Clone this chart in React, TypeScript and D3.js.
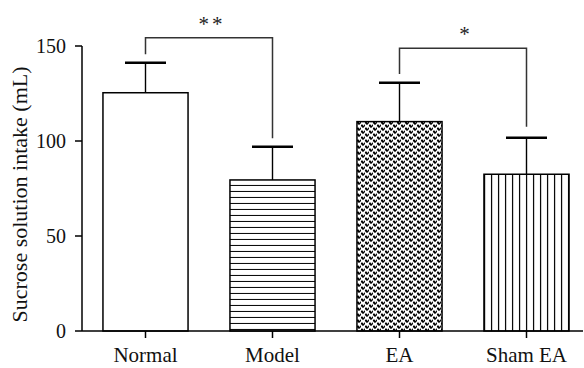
import React from 'react';
import * as d3 from 'd3';

// Chart data
const GROUPS = ['Normal', 'Model', 'EA', 'Sham EA'];
const MEANS = [125.4, 79.5, 110.2, 82.5];
const ERR_TOP = [141.2, 97, 130.7, 101.7];
const FILLS = ['#ffffff', 'url(#hlines)', 'url(#dots)', 'url(#vlines)'];
const Y_TICKS = [0, 50, 100, 150];

// Significance brackets: [from group, to group], bracket level, left end, right end, label
const SIG_PAIRS: [number, number][] = [[0, 1], [2, 3]];
const SIG_LEVEL = [154.4, 148.8];
const SIG_LEFT_END = [145.6, 135.3];
const SIG_RIGHT_END = [101.4, 107.5];
const SIG_LABELS = ['**', '*'];

// heart-ish dot used in the EA fill (pixel rows)
const DOT_SHAPE = ['XX.X', 'XXXX', '.XX.'];

const W = 584;
const H = 368;
const FONT = '"Liberation Serif", "Times New Roman", serif';

const dotRects = (ox: number, oy: number) => {
  const out: { x: number; y: number }[] = [];
  DOT_SHAPE.forEach((row, r) => {
    row.split('').forEach((c, k) => {
      if (c === 'X') out.push({ x: ox + k, y: oy + r });
    });
  });
  return out;
};

const App: React.FC = () => {
  const x = d3.scaleBand<string>()
    .domain(GROUPS)
    .range([82, 590])
    .paddingInner(0.33)
    .paddingOuter(0.165);

  const y = d3.scaleLinear()
    .domain([0, 150])
    .range([331, 46]);

  const cx = (i: number) => (x(GROUPS[i]) as number) + x.bandwidth() / 2;
  const capHalf = 20.5;
  const dots = [...dotRects(0, 0), ...dotRects(4, 3)];

  return (
    <div style={{ position: 'absolute', left: 0, top: 0 }}>
      <svg width={W} height={H} style={{ display: 'block', background: '#fff' }}>
        <defs>
          <pattern id="hlines" width="6" height="6" patternUnits="userSpaceOnUse" y={y(MEANS[1])}>
            <rect width="6" height="6" fill="#fff" />
            <rect x="0" y="5" width="6" height="1.1" fill="#000" />
          </pattern>
          <pattern id="vlines" width="7" height="7" patternUnits="userSpaceOnUse" x={x('Sham EA')}>
            <rect width="7" height="7" fill="#fff" />
            <rect x="0" y="0" width="1.2" height="7" fill="#000" />
          </pattern>
          <pattern id="dots" width="8" height="6" patternUnits="userSpaceOnUse" x={x('EA')} y={y(MEANS[2])}>
            <rect width="8" height="6" fill="#fff" />
            <g fill="#000" shapeRendering="crispEdges">
              {dots.map((d, i) => (
                <rect key={i} x={d.x % 8} y={d.y % 6} width="1" height="1" />
              ))}
            </g>
          </pattern>
        </defs>

        {/* bars */}
        {GROUPS.map((g, i) => (
          <rect
            key={g}
            x={x(g)}
            y={y(MEANS[i])}
            width={x.bandwidth()}
            height={y(0) - y(MEANS[i])}
            fill={FILLS[i]}
            stroke="#000"
            strokeWidth={1.5}
          />
        ))}

        {/* error bars */}
        {GROUPS.map((g, i) => (
          <g key={g + '-err'} stroke="#000">
            <line x1={cx(i)} x2={cx(i)} y1={y(MEANS[i])} y2={y(ERR_TOP[i])} strokeWidth={1.4} />
            <line x1={cx(i) - capHalf} x2={cx(i) + capHalf} y1={y(ERR_TOP[i])} y2={y(ERR_TOP[i])} strokeWidth={2.5} />
          </g>
        ))}

        {/* significance brackets */}
        {SIG_PAIRS.map(([a, b], k) => (
          <g key={'sig' + k}>
            <path
              d={`M${cx(a)},${y(SIG_LEFT_END[k])}V${y(SIG_LEVEL[k])}H${cx(b)}V${y(SIG_RIGHT_END[k])}`}
              fill="none"
              stroke="#333"
              strokeWidth={1.5}
            />
            <text
              x={(cx(a) + cx(b)) / 2 + 3}
              y={y(SIG_LEVEL[k]) - 7}
              textAnchor="middle"
              fontFamily={FONT}
              fontSize={21}
              letterSpacing={3}
              fill="#222"
            >
              {SIG_LABELS[k]}
            </text>
          </g>
        ))}

        {/* y axis */}
        <line x1={82} x2={82} y1={y(150)} y2={y(0)} stroke="#000" strokeWidth={1.5} />
        {Y_TICKS.map(t => (
          <g key={'yt' + t}>
            <line x1={75} x2={82} y1={y(t)} y2={y(t)} stroke="#000" strokeWidth={1.5} />
            <text
              x={66}
              y={y(t)}
              dy="0.35em"
              textAnchor="end"
              fontFamily={FONT}
              fontSize={20}
              fill="#111"
            >
              {t}
            </text>
          </g>
        ))}
        <text
          transform={`translate(27,${(y(0) + y(150)) / 2 + 6}) rotate(-90)`}
          textAnchor="middle"
          fontFamily={FONT}
          fontSize={22}
          fill="#111"
        >
          Sucrose solution intake (mL)
        </text>

        {/* x axis */}
        <line x1={82} x2={583} y1={y(0)} y2={y(0)} stroke="#000" strokeWidth={1.5} />
        {GROUPS.map((g, i) => (
          <g key={'xt' + g}>
            <line x1={cx(i)} x2={cx(i)} y1={y(0)} y2={y(0) + 7} stroke="#000" strokeWidth={1.5} />
            <text
              x={cx(i)}
              y={362}
              textAnchor="middle"
              fontFamily={FONT}
              fontSize={21}
              fill="#111"
            >
              {g}
            </text>
          </g>
        ))}
      </svg>
    </div>
  );
};

export default App;
